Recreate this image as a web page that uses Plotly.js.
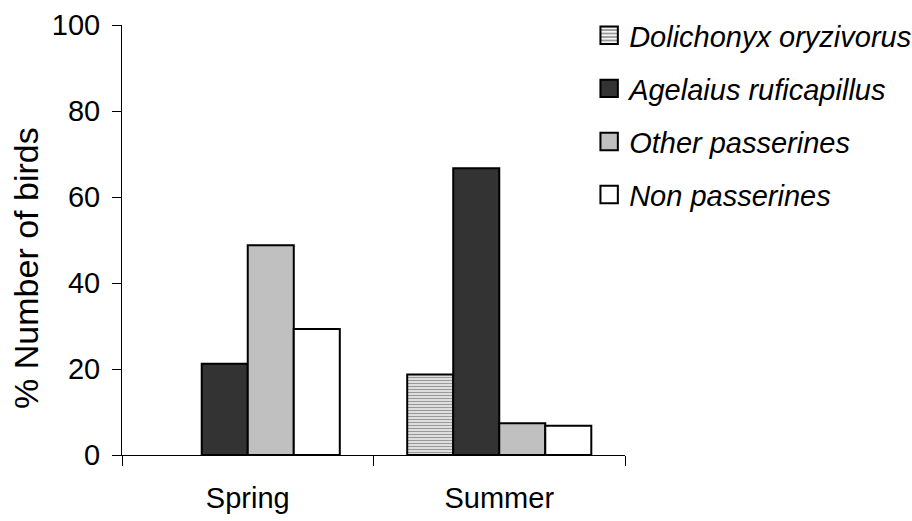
<!DOCTYPE html>
<html>
<head>
<meta charset="utf-8">
<script src="https://cdn.plot.ly/plotly-3.0.1.min.js"></script>
<style>html,body{margin:0;padding:0;background:#fff;}#chart{width:912px;height:521px;}</style>
</head>
<body>
<div id="chart"></div>
<script>
var seasons = ["Spring", "Summer"];
var dolichonyx = [null, 18.7];
var agelaius = [21.2, 66.7];
var otherPasserines = [48.8, 7.4];
var nonPasserines = [29.3, 6.8];
var seriesNames = ["Dolichonyx oryzivorus", "Agelaius ruficapillus", "Other passerines", "Non passerines"];
var yTicks = [0, 20, 40, 60, 80, 100];
var yTitle = "% Number of birds";

var FONT = "Liberation Sans, Arial, sans-serif";
var outline = {color: "#000", width: 2};

function bar(name, vals, color, group, pattern) {
  var m = {color: color, line: outline};
  if (pattern) m.pattern = pattern;
  return {type: "bar", name: name, x: seasons, y: vals, marker: m, legendgroup: group};
}

var traces = [
  bar(seriesNames[0], dolichonyx, "#ffffff", "g1", {shape: "-", fgcolor: "#999999", bgcolor: "#ffffff", size: 3, solidity: 0.55, fillmode: "replace"}),
  bar(seriesNames[1], agelaius, "#333333", "g2"),
  bar(seriesNames[2], otherPasserines, "#c0c0c0", "g3"),
  bar(seriesNames[3], nonPasserines, "#ffffff", "g4")
];

var layout = {
  width: 912, height: 521,
  margin: {l: 122, r: 287, t: 25, b: 66, autoexpand: false},
  paper_bgcolor: "#fff", plot_bgcolor: "#fff",
  font: {family: FONT, size: 29, color: "#000"},
  barmode: "group", bargap: 0.268, bargroupgap: 0,
  showlegend: true,
  legend: {xref: "container", yref: "container", x: 0.646, y: 0.981, xanchor: "left", yanchor: "top",
           font: {family: FONT, size: 29, style: "italic"},
           traceorder: "grouped", tracegroupgap: 12.4, bgcolor: "rgba(0,0,0,0)", itemclick: false},
  xaxis: {type: "category", tickson: "boundaries", ticks: "outside", ticklen: 10, tickwidth: 1, tickcolor: "#000",
          showline: true, linecolor: "#000", linewidth: 1, showgrid: false, zeroline: false, automargin: false,
          tickfont: {family: FONT, size: 29}, ticklabelstandoff: 17, fixedrange: true},
  yaxis: {range: [0, 100], tickvals: yTicks, ticks: "outside", ticklen: 9, tickwidth: 1, tickcolor: "#000",
          showline: true, linecolor: "#000", linewidth: 1, showgrid: false, zeroline: false, automargin: false,
          tickfont: {family: FONT, size: 29}, ticklabelstandoff: 6, fixedrange: true},
  annotations: [{text: yTitle, xref: "paper", yref: "paper", x: -0.191, y: 0.435, xanchor: "center", yanchor: "middle",
                 textangle: -90, showarrow: false, font: {family: FONT, size: 34, color: "#000"}}]
};

Plotly.newPlot("chart", traces, layout, {displayModeBar: false, staticPlot: true}).then(function (gd) {
  var pts = gd.querySelectorAll(".legend .legendpoints path");
  pts.forEach(function (p) {
    var t = p.getAttribute("transform") || "";
    p.setAttribute("transform", t + " scale(1.45)");
    p.style.strokeWidth = "1.4px";
  });
});
</script>
</body>
</html>
